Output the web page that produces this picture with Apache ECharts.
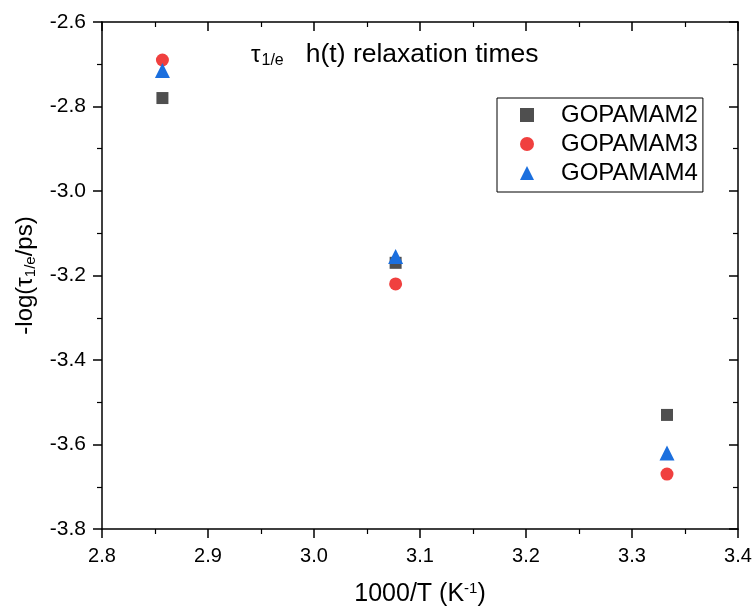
<!DOCTYPE html>
<html lang="en">
<head>
    <meta charset="UTF-8">
    <title>relaxation times</title>
    <style>
        body{ margin:0; background:#fff; }
        #main{ width:755px; height:612px; }
    </style>
</head>
<body>
<div id="main"></div>
<script src="https://cdn.jsdelivr.net/npm/echarts@6/dist/echarts.min.js"></script>
<script>
    // 1000/T 的值 (K^-1)
    var invTemp = [2.857, 3.077, 3.333];
    // -log(tau/ps)
    var gop2 = [-2.78, -3.17, -3.53];
    var gop3 = [-2.69, -3.22, -3.67];
    var gop4 = [-2.715, -3.155, -3.62];
    var seriesNames = ['GOPAMAM2', 'GOPAMAM3', 'GOPAMAM4'];

    function pairs(ys) {
        var out = [];
        for (var i = 0; i < invTemp.length; i++) {
            out.push([invTemp[i], ys[i]]);
        }
        return out;
    }

    var font = 'Arial, "Liberation Sans", sans-serif';
    var myChart = echarts.init(document.getElementById('main'));

    var tickBase = {
        axisLine: { show: true, lineStyle: { color: '#000', width: 1.5 } },
        splitLine: { show: false },
        minorTick: { show: true, splitNumber: 2, length: 5, lineStyle: { color: '#000', width: 1.2 } }
    };

    var option = {
        backgroundColor: '#fff',
        animation: false,
        textStyle: { fontFamily: font },
        title: {
            text: '{tau|τ}{sub|1/e}{t|   h(t) relaxation times}',
            left: 246,
            top: 36,
            textStyle: {
                fontFamily: font,
                fontSize: 25,
                fontWeight: 'normal',
                color: '#000',
                rich: {
                    tau: { fontSize: 24, fontFamily: font, color: '#000' },
                    sub: { fontSize: 16, fontFamily: font, color: '#000', padding: [12, 0, 0, 1] },
                    t: { fontSize: 26.5, fontFamily: font, color: '#000' }
                }
            }
        },
        legend: {
            left: 497,
            top: 98,
            orient: 'vertical',
            borderColor: '#000',
            borderWidth: 1,
            borderRadius: 0,
            padding: [5, 5, 7, 23],
            itemWidth: 14,
            itemHeight: 14,
            itemGap: 5,
            data: seriesNames,
            textStyle: {
                fontFamily: font,
                fontSize: 24,
                color: '#000',
                lineHeight: 24,
                padding: [0, 0, 0, 22]
            }
        },
        grid: { left: 102, right: 17, top: 22, bottom: 82, containLabel: false },
        xAxis: [
            Object.assign({}, tickBase, {
                type: 'value',
                position: 'bottom',
                min: 2.8,
                max: 3.4,
                interval: 0.1,
                name: '1000/T (K{sup|-1})',
                nameLocation: 'middle',
                nameGap: 52,
                nameTextStyle: {
                    fontFamily: font, fontSize: 25, color: '#000',
                    rich: { sup: { fontSize: 15, fontFamily: font, color: '#000', padding: [0, 0, 12, 0] } }
                },
                axisTick: { show: true, inside: false, length: 9, lineStyle: { color: '#000', width: 1.5 } },
                axisLabel: {
                    fontFamily: font, fontSize: 20, color: '#000', margin: 17,
                    formatter: function (v) { return v.toFixed(1); }
                }
            }),
            Object.assign({}, tickBase, {
                type: 'value',
                position: 'top',
                min: 2.8,
                max: 3.4,
                interval: 0.1,
                axisTick: { show: true, inside: true, length: 9, lineStyle: { color: '#000', width: 1.5 } },
                axisLabel: { show: false }
            })
        ],
        yAxis: [
            Object.assign({}, tickBase, {
                type: 'value',
                position: 'left',
                min: -3.8,
                max: -2.6,
                interval: 0.2,
                name: '-log({tau|τ}{sub|1/e}/ps)',
                nameLocation: 'middle',
                nameGap: 64,
                nameTextStyle: {
                    fontFamily: font, fontSize: 24, color: '#000',
                    rich: {
                        tau: { fontSize: 24, fontFamily: font, color: '#000' },
                        sub: { fontSize: 15, fontFamily: font, color: '#000', padding: [11, 0, 0, 0] }
                    }
                },
                axisTick: { show: true, inside: false, length: 9, lineStyle: { color: '#000', width: 1.5 } },
                axisLabel: {
                    fontFamily: font, fontSize: 21, color: '#000', margin: 16,
                    formatter: function (v) { return v.toFixed(1); }
                }
            }),
            Object.assign({}, tickBase, {
                type: 'value',
                position: 'right',
                min: -3.8,
                max: -2.6,
                interval: 0.2,
                axisTick: { show: true, inside: true, length: 9, lineStyle: { color: '#000', width: 1.5 } },
                axisLabel: { show: false }
            })
        ],
        series: [
            {
                name: seriesNames[0],
                type: 'scatter',
                symbol: 'rect',
                symbolSize: 12,
                itemStyle: { color: '#4f4f4f', opacity: 1 },
                data: pairs(gop2)
            },
            {
                name: seriesNames[1],
                type: 'scatter',
                symbol: 'circle',
                symbolSize: 13,
                itemStyle: { color: '#f0403f', opacity: 1 },
                data: pairs(gop3)
            },
            {
                name: seriesNames[2],
                type: 'scatter',
                symbol: 'triangle',
                symbolSize: 15,
                itemStyle: { color: '#1b6fde', opacity: 1 },
                data: pairs(gop4)
            }
        ]
    };

    myChart.setOption(option);
</script>
</body>
</html>
